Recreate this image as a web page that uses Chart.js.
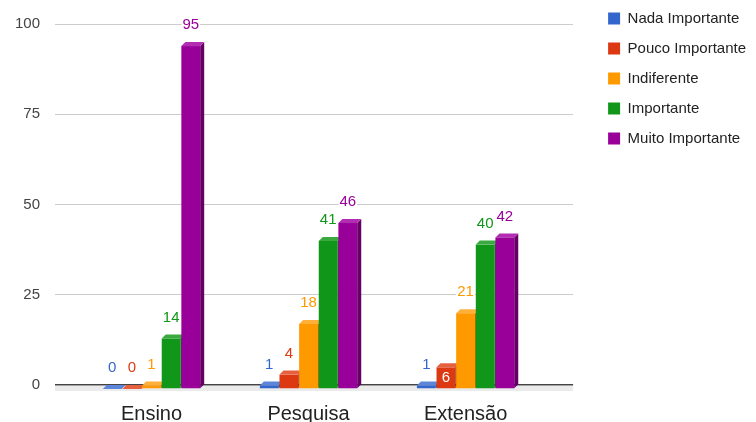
<!DOCTYPE html>
<html>
<head>
<meta charset="utf-8">
<script src="https://cdn.jsdelivr.net/npm/chart.js@4.4.0/dist/chart.umd.min.js"></script>
<style>
  html, body { margin: 0; padding: 0; background: #fff; }
  #wrap { width: 756px; height: 422px; }
</style>
</head>
<body>
<div id="wrap"><canvas id="chart"></canvas></div>
<script>
const categories = ['Ensino', 'Pesquisa', 'Extensão']
const seriesNames = ['Nada Importante', 'Pouco Importante', 'Indiferente', 'Importante', 'Muito Importante']
const nadaImportante = [0, 1, 1]
const poucoImportante = [0, 4, 6]
const indiferente = [1, 18, 21]
const importante = [14, 41, 40]
const muitoImportante = [95, 46, 42]
const yTicks = [0, 25, 50, 75, 100]
// value labels written in white inside their bar: [series, category]
const insideLabels = [[1, 2]]

const seriesValues = [nadaImportante, poucoImportante, indiferente, importante, muitoImportante]
const colors = ['#3366cc', '#dc3912', '#ff9900', '#109618', '#990099']
const topColors = ['#5c86d9', '#e6603f', '#ffb03a', '#3aa940', '#b32db3']
const sideColors = ['#23478f', '#9a280c', '#b36b00', '#0b6911', '#660066']
const FONT = '"Liberation Sans", Arial, sans-serif'
const DEPTH = 4

const gridColor = (ctx) => (ctx.tick && ctx.tick.value === 0 ? '#444' : '#cccccc')
const gridWidth = (ctx) => (ctx.tick && ctx.tick.value === 0 ? 1.5 : 1)

// fake 3D columns: front face shifted down, top and right side faces on top
const bars3d = {
    id: 'bars3d',
    beforeDatasetsDraw(chart) {
        const { ctx, chartArea } = chart
        const zero = chart.scales.y.getPixelForValue(0)
        // light floor strip under the base line
        ctx.save()
        ctx.fillStyle = '#ebebeb'
        ctx.fillRect(chartArea.left - 18, zero + 1, chartArea.right - chartArea.left + 47, 5)
        for (let c = 0; c < categories.length; c++) {
            seriesValues.forEach((vals, s) => {
                const bar = chart.getDatasetMeta(s).data[c]
                const { x, y, base, width } = bar.getProps(['x', 'y', 'base', 'width'], true)
                const l = x - width / 2
                const r = x + width / 2
                ctx.fillStyle = colors[s]
                ctx.fillRect(l, y + DEPTH, width, base - y)
                ctx.fillStyle = sideColors[s]
                ctx.beginPath()
                ctx.moveTo(r, y + DEPTH)
                ctx.lineTo(r + DEPTH, y)
                ctx.lineTo(r + DEPTH, base)
                ctx.lineTo(r, base + DEPTH)
                ctx.closePath()
                ctx.fill()
                ctx.fillStyle = topColors[s]
                ctx.beginPath()
                ctx.moveTo(l, y + DEPTH)
                ctx.lineTo(l + DEPTH, y)
                ctx.lineTo(r + DEPTH, y)
                ctx.lineTo(r, y + DEPTH)
                ctx.closePath()
                ctx.fill()
            })
        }
        ctx.restore()
        return false
    },
    // datasets draw is cancelled above, so value labels go here
    afterDraw(chart) {
        const { ctx } = chart
        ctx.save()
        ctx.font = '15px ' + FONT
        ctx.textAlign = 'center'
        ctx.textBaseline = 'middle'
        seriesValues.forEach((vals, s) => {
            const meta = chart.getDatasetMeta(s)
            vals.forEach((v, c) => {
                const { x, y, base } = meta.data[c].getProps(['x', 'y', 'base'], true)
                const text = String(v)
                const inside = insideLabels.some(([is, ic]) => is === s && ic === c)
                if (inside) {
                    ctx.fillStyle = '#ffffff'
                    ctx.fillText(text, x, (y + base) / 2 + DEPTH)
                } else {
                    const ly = y - 17
                    const w = ctx.measureText(text).width
                    ctx.fillStyle = '#ffffff'
                    ctx.fillRect(x - w / 2 - 1, ly - 7, w + 2, 14)
                    ctx.fillStyle = colors[s]
                    ctx.fillText(text, x, ly)
                }
            })
        })
        ctx.restore()
    }
}

new Chart(document.getElementById('chart'), {
    type: 'bar',
    data: {
        labels: categories,
        datasets: seriesNames.map((name, i) => ({
            label: name,
            data: seriesValues[i],
            backgroundColor: colors[i],
            borderWidth: 0,
            yAxisID: 'y'
        }))
    },
    options: {
        responsive: true,
        maintainAspectRatio: false,
        animation: false,
        categoryPercentage: 0.625,
        barPercentage: 0.96,
        layout: { padding: { top: -4, left: 0, right: 0, bottom: 0 } },
        scales: {
            x: {
                grid: { display: false },
                border: { display: false },
                ticks: { font: { family: FONT, size: 20 }, color: '#222', padding: 9 },
                afterFit(scale) { scale.height = 37 }
            },
            y: {
                min: 0,
                max: 100,
                afterBuildTicks(scale) { scale.ticks = yTicks.map((v) => ({ value: v })) },
                ticks: { font: { family: FONT, size: 15 }, color: '#444', padding: 15 },
                grid: { color: gridColor, lineWidth: gridWidth, tickLength: 18 },
                border: { display: false },
                afterFit(scale) { scale.width = 73 }
            },
            y2: {
                position: 'right',
                min: 0,
                max: 100,
                afterBuildTicks(scale) { scale.ticks = yTicks.map((v) => ({ value: v })) },
                ticks: { display: false },
                grid: { color: gridColor, lineWidth: gridWidth, tickLength: 29, drawOnChartArea: false },
                border: { display: false },
                afterFit(scale) { scale.width = 49 }
            }
        },
        plugins: {
            title: { display: true, text: '', padding: 0, font: { size: 25, lineHeight: 1 } },
            legend: {
                position: 'right',
                align: 'start',
                maxWidth: 220,
                labels: {
                    boxWidth: 12,
                    boxHeight: 12,
                    padding: 15,
                    color: '#222',
                    font: { family: FONT, size: 15 }
                }
            },
            tooltip: { enabled: false }
        }
    },
    plugins: [bars3d]
})
</script>
</body>
</html>
